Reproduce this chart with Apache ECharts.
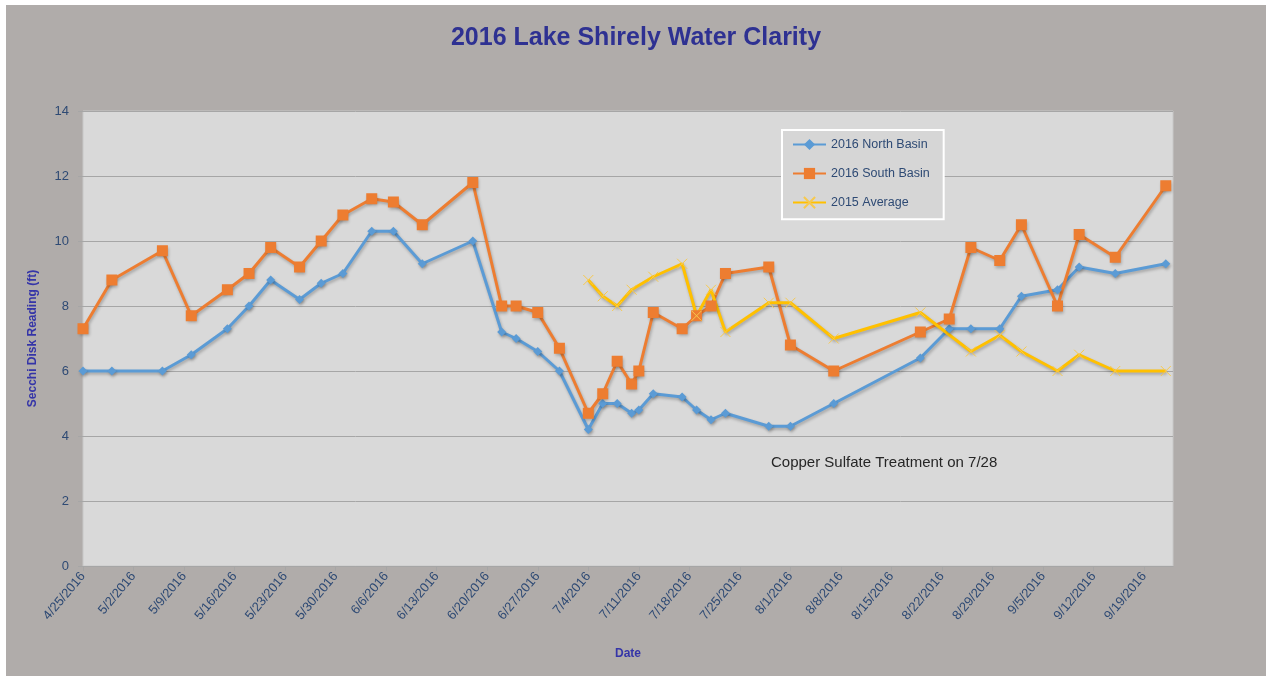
<!DOCTYPE html>
<html>
<head>
<meta charset="utf-8">
<script src="https://cdn.jsdelivr.net/npm/echarts@6/dist/echarts.min.js"></script>
<style>
  html, body { margin: 0; padding: 0; background: #ffffff; }
  #chart { position: absolute; left: 6px; top: 5px; width: 1260px; height: 671px; }
</style>
</head>
<body>
<div id="chart"></div>
<script>
// sample dates (2016) and readings in ft
const dates = ['4/25', '4/29', '5/6', '5/10', '5/15', '5/18', '5/21', '5/25', '5/28', '5/31',
  '6/4', '6/7', '6/11', '6/18', '6/22', '6/24', '6/27', '6/30',
  '7/4', '7/6', '7/8', '7/10', '7/11', '7/13', '7/17', '7/19', '7/21', '7/23', '7/29', '8/1',
  '8/7', '8/19', '8/23', '8/26', '8/30', '9/2', '9/7', '9/10', '9/15', '9/22'];
const northBasin = [6.0, 6.0, 6.0, 6.5, 7.3, 8.0, 8.8, 8.2, 8.7, 9.0,
  10.3, 10.3, 9.3, 10.0, 7.2, 7.0, 6.6, 6.0,
  4.2, 5.0, 5.0, 4.7, 4.8, 5.3, 5.2, 4.8, 4.5, 4.7, 4.3, 4.3,
  5.0, 6.4, 7.3, 7.3, 7.3, 8.3, 8.5, 9.2, 9.0, 9.3];
const southBasin = [7.3, 8.8, 9.7, 7.7, 8.5, 9.0, 9.8, 9.2, 10.0, 10.8,
  11.3, 11.2, 10.5, 11.8, 8.0, 8.0, 7.8, 6.7,
  4.7, 5.3, 6.3, 5.6, 6.0, 7.8, 7.3, 7.7, 8.0, 9.0, 9.2, 6.8,
  6.0, 7.2, 7.6, 9.8, 9.4, 10.5, 8.0, 10.2, 9.5, 11.7];
const avgDates = ['7/4', '7/6', '7/8', '7/10', '7/13', '7/17', '7/19', '7/21', '7/23', '7/29', '8/1',
  '8/7', '8/19', '8/26', '8/30', '9/2', '9/7', '9/10', '9/15', '9/22'];
const avg2015 = [8.8, 8.3, 8.0, 8.5, 8.9, 9.3, 7.7, 8.5, 7.2, 8.1, 8.1,
  7.0, 7.8, 6.6, 7.1, 6.6, 6.0, 6.5, 6.0, 6.0];
const tickDates = ['4/25', '5/2', '5/9', '5/16', '5/23', '5/30', '6/6', '6/13', '6/20', '6/27',
  '7/4', '7/11', '7/18', '7/25', '8/1', '8/8', '8/15', '8/22', '8/29', '9/5', '9/12', '9/19'];

const start = Date.UTC(2016, 3, 25);
const DAY = 86400000;
// days since 4/25/2016
function dayOf(md) {
  const p = md.split('/');
  return Math.round((Date.UTC(2016, +p[0] - 1, +p[1]) - start) / DAY);
}
function labelOf(d) {
  const t = new Date(start + d * DAY);
  return (t.getUTCMonth() + 1) + '/' + t.getUTCDate() + '/' + t.getUTCFullYear();
}
function pairs(ds, vs) {
  return ds.map((d, i) => [dayOf(d), vs[i]]);
}
const tickDays = tickDates.map(dayOf);

const crossPath = 'path://M0,0L10,10M10,0L0,10';
const shadow = { shadowColor: 'rgba(0,0,0,0.25)', shadowBlur: 3, shadowOffsetX: 1, shadowOffsetY: 2 };

const chart = echarts.init(document.getElementById('chart'));
chart.setOption({
  backgroundColor: '#b0acaa',
  animation: false,
  textStyle: { fontFamily: 'Liberation Sans' },
  title: {
    text: '2016 Lake Shirely Water Clarity',
    left: 'center',
    top: 16,
    textStyle: { fontSize: 25, fontWeight: 'bold', color: '#2e3192', fontFamily: 'Liberation Sans' }
  },
  legend: {
    orient: 'vertical',
    left: 776,
    top: 125,
    backgroundColor: '#d6d6d6',
    borderColor: '#ffffff',
    borderWidth: 2,
    padding: [8, 14, 10, 10],
    itemGap: 16,
    itemWidth: 33,
    itemHeight: 14,
    textStyle: { color: '#2e4a74', fontSize: 12.5 },
    data: ['2016 North Basin', '2016 South Basin', '2015 Average']
  },
  grid: {
    left: 77, right: 93, top: 106, bottom: 110,
    show: true,
    backgroundColor: '#d9d9d9',
    borderColor: '#c8c8c8',
    borderWidth: 1
  },
  xAxis: {
    type: 'value',
    min: 0,
    max: 151,
    interval: 7,
    name: 'Date',
    nameLocation: 'middle',
    nameGap: 82,
    nameTextStyle: { color: '#3535a8', fontWeight: 'bold', fontSize: 12 },
    axisLine: { lineStyle: { color: '#a6a6a6' } },
    axisTick: { customValues: tickDays, length: 5, lineStyle: { color: '#a6a6a6' } },
    splitLine: { show: false },
    axisLabel: {
      customValues: tickDays,
      rotate: 50,
      margin: 8,
      color: '#2e4a74',
      fontSize: 13,
      formatter: labelOf
    }
  },
  yAxis: {
    type: 'value',
    min: 0,
    max: 14,
    interval: 2,
    name: 'Secchi Disk Reading (ft)',
    nameLocation: 'middle',
    nameGap: 44,
    nameTextStyle: { color: '#3535a8', fontWeight: 'bold', fontSize: 12 },
    axisLine: { show: false },
    axisTick: { show: true, length: 5, lineStyle: { color: '#a6a6a6' } },
    splitLine: { lineStyle: { color: '#a6a6a6', width: 1 } },
    axisLabel: { color: '#2e4a74', fontSize: 13, margin: 14 }
  },
  graphic: [{
    type: 'text',
    left: 765,
    top: 450,
    style: {
      text: 'Copper Sulfate Treatment on 7/28',
      fill: '#262626',
      font: '15px "Liberation Sans"'
    }
  }],
  series: [
    {
      name: '2016 North Basin',
      type: 'line',
      data: pairs(dates, northBasin),
      symbol: 'diamond',
      symbolSize: 9,
      color: '#5b9bd5',
      lineStyle: Object.assign({ width: 3 }, shadow),
      itemStyle: Object.assign({ color: '#5b9bd5' }, shadow)
    },
    {
      name: '2016 South Basin',
      type: 'line',
      data: pairs(dates, southBasin),
      symbol: 'rect',
      symbolSize: 11,
      color: '#ed7d31',
      lineStyle: Object.assign({ width: 3 }, shadow),
      itemStyle: Object.assign({ color: '#ed7d31' }, shadow)
    },
    {
      name: '2015 Average',
      type: 'line',
      data: pairs(avgDates, avg2015),
      symbol: crossPath,
      symbolSize: 10,
      color: '#ffc000',
      lineStyle: Object.assign({ width: 3 }, shadow),
      itemStyle: { color: '#ffc000', borderColor: '#f7c94e', borderWidth: 1 }
    }
  ]
});
</script>
</body>
</html>
